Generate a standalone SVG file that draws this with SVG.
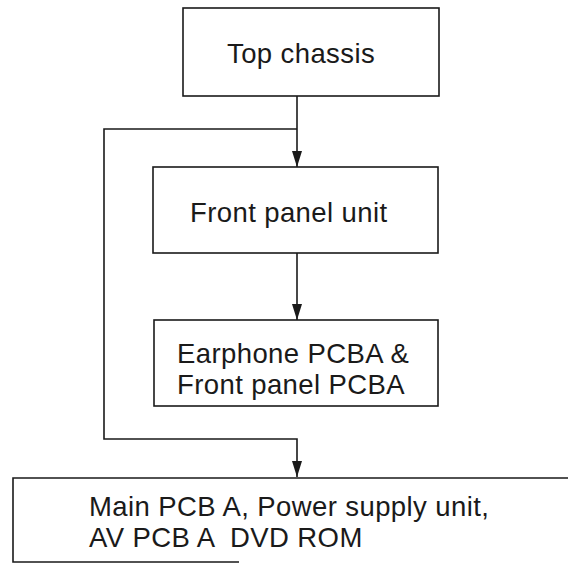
<svg xmlns="http://www.w3.org/2000/svg" width="568" height="564" viewBox="0 0 568 564">
<defs>
<style>
.box{fill:none;stroke:#1a1a1a;stroke-width:1.6}
.ln{fill:none;stroke:#1a1a1a;stroke-width:1.6}
text{font-family:"Liberation Sans",Arial,sans-serif;font-size:27.5px;letter-spacing:0.4px;fill:#1a1a1a}
</style>
<marker id="ah" viewBox="0 0 10 16" refX="5" refY="16" markerWidth="10" markerHeight="16" markerUnits="userSpaceOnUse" orient="0">
<path d="M0,0 L10,0 L5,16 Z" fill="#1a1a1a"/>
</marker>
</defs>
<rect width="568" height="564" fill="#ffffff"/>
<g id="connectors">
<path class="ln" d="M297,96 V167" marker-end="url(#ah)"/>
<path class="ln" d="M297,129 H104 V439 H297 V477" marker-end="url(#ah)"/>
<path class="ln" d="M297,253 V320" marker-end="url(#ah)"/>
</g>
<g id="top-chassis">
<rect class="box" x="183" y="8" width="256" height="88"/>
<text x="227" y="63">Top chassis</text>
</g>
<g id="front-panel-unit">
<rect class="box" x="153" y="167" width="285" height="86"/>
<text x="190" y="222">Front panel unit</text>
</g>
<g id="earphone-pcba">
<rect class="box" x="154" y="320" width="284" height="86"/>
<text x="177" y="363">Earphone PCBA &amp;</text>
<text x="177" y="394">Front panel PCBA</text>
</g>
<g id="main-pcb">
<path class="box" d="M568,478 H13 V562 H239"/>
<text x="89" y="516">Main PCB A, Power supply unit,</text>
<text x="89" y="547" xml:space="preserve">AV PCB A  DVD ROM</text>
</g>
</svg>
